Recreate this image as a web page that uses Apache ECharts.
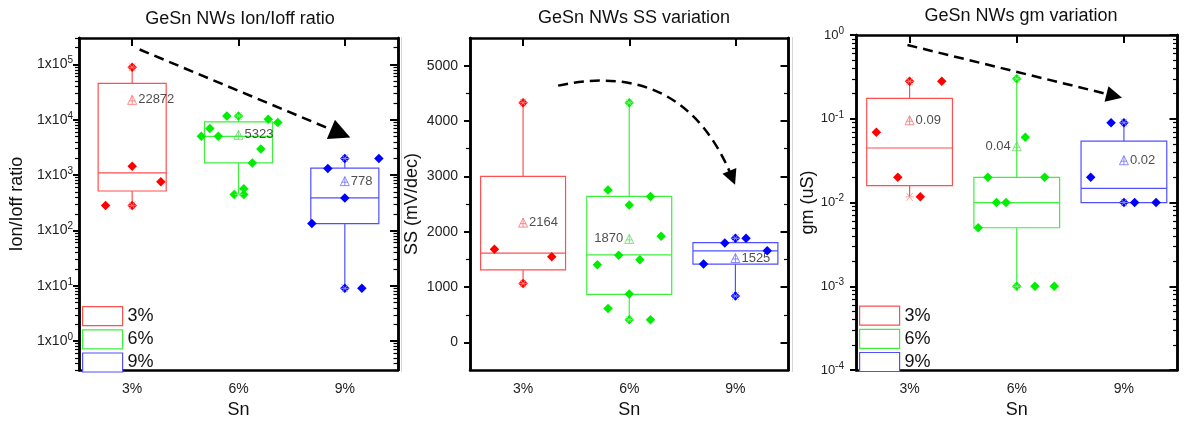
<!DOCTYPE html>
<html>
<head>
<meta charset="utf-8">
<title>GeSn NWs variation</title>
<script src="https://cdn.jsdelivr.net/npm/echarts@6/dist/echarts.min.js"></script>
<style>
html, body { margin: 0; padding: 0; background: #fff; }
#chart { width: 1184px; height: 424px; }
</style>
</head>
<body>
<div id="chart"></div>
<script>
var FONT = 'Liberation Sans, Arial, sans-serif';

// Sn content groups (x categories)
var snLevels = ['3%', '6%', '9%'];

// Ion/Ioff ratio: box [min, q1, median, q3, max], mean, points [x, value]
var ionBox = [
    [283, 516, 1100, 45600, 89000],
    [450, 1665, 5020, 9190, 11750],
    [9, 133, 387, 1337, 2000]
];
var ionMean = [22872, 5323, 778];
var ionMeanText = ['22872', '5323', '778'];
var ionPoints = [
    [[1.0, 89000], [1.0, 1450], [1.27, 755], [0.75, 283], [1.0, 283]],
    [[1.89, 11750], [2.0, 11750], [2.28, 10230], [2.37, 8920], [1.73, 6940], [1.65, 5020],
        [1.81, 5020], [2.21, 2950], [2.13, 1650], [2.05, 565], [1.96, 446], [2.05, 446]],
    [[2.69, 133], [2.84, 1320], [3.0, 2000], [3.32, 2000], [3.0, 387], [3.0, 9], [3.16, 9]]
];
var ionTrend = [[1.07, 186000], [2.96, 5660]];
var ionTickExp = [0, 1, 2, 3, 4, 5];

// SS (mV/dec)
var ssBox = [
    [1066, 1310, 1613, 3000, 4330],
    [411, 869, 1583, 2637, 4330],
    [839, 1415, 1654, 1802, 1881]
];
var ssMean = [2164, 1870, 1525];
var ssMeanText = ['2164', '1870', '1525'];
var ssPoints = [
    [[1.0, 4330], [0.73, 1684], [1.27, 1548], [1.0, 1066]],
    [[2.0, 4330], [1.80, 2756], [2.0, 2482], [2.20, 2637], [2.30, 1917], [1.90, 1577],
        [1.70, 1405], [2.10, 1494], [2.0, 875], [1.80, 613], [2.0, 411], [2.20, 411]],
    [[2.70, 1417], [2.90, 1798], [3.0, 1881], [3.10, 1881], [3.30, 1655], [3.0, 839]]
];
var ssTrend = [[1.33, 4640], [2.97, 2975]];
var ssTicks = [0, 1000, 2000, 3000, 4000, 5000];
var ssMinorTicks = [500, 1500, 2500, 3500, 4500];

// gm (uS)
var gmBox = [
    [0.0117, 0.0159, 0.0448, 0.175, 0.28],
    [0.001, 0.005, 0.01, 0.02, 0.30],
    [0.01, 0.01, 0.0148, 0.0542, 0.0897]
];
var gmMean = [0.096, 0.047, 0.032];
var gmMeanText = ['0.09', '0.04', '0.02'];
var gmPoints = [
    [[1.0, 0.28], [1.30, 0.28], [0.69, 0.069], [0.89, 0.020], [1.10, 0.0117]],
    [[2.0, 0.30], [2.08, 0.060], [1.73, 0.02], [2.26, 0.02], [1.81, 0.01], [1.90, 0.01],
        [1.64, 0.005], [2.0, 0.001], [2.17, 0.001], [2.35, 0.001]],
    [[2.88, 0.0897], [3.0, 0.0897], [2.69, 0.02], [3.0, 0.01], [3.10, 0.01], [3.30, 0.01]]
];
var gmTrend = [[0.98, 0.76], [2.91, 0.188]];
var gmTickExp = [-4, -3, -2, -1, 0];

var pointColor = ['#ff0000', '#00ee00', '#0000ff'];
var boxColor = ['#ff5050', '#3cf03c', '#5050ff'];
var meanColor = ['#ff7070', '#60e060', '#7070ff'];
var crossColor = ['#ff9090', '#90f090', '#a0a0ff'];

var MEAN_SYMBOL = 'path://M5,0L10,9L0,9Z M5,0L5,9 M1.5,5.5L8.5,5.5';
var CROSS_SYMBOL = 'path://M1,1L9,9M9,1L1,9M0,5L10,5';

function logMinor(fromExp, toExp) {
    var out = [];
    for (var e = fromExp; e <= toExp; e++) {
        for (var m = 2; m <= 9; m++) {
            out.push(m * Math.pow(10, e));
        }
    }
    return out;
}

var panels = [
    {
        title: 'GeSn NWs Ion/Ioff ratio', yName: 'Ion/Ioff ratio',
        box: ionBox, mean: ionMean, meanText: ionMeanText, points: ionPoints, trend: ionTrend,
        type: 'log', min: 0.3, max: 300000,
        ticks: ionTickExp.map(function (e) { return Math.pow(10, e); }), minor: logMinor(-1, 5),
        label: function (v) { return '1x10{s|' + Math.round(Math.log10(v)) + '}'; },
        sides: ['right', 'right', 'right'], legend: true,
        grid: { left: 79, top: 38, width: 319, height: 335 },
        titleAt: [240, 10], half: 0.32, nameGap: 53, labelMargin: 6, labelSize: 14,
        arrow: [13, 21], curve: 0
    },
    {
        title: 'GeSn NWs SS variation', yName: 'SS (mV/dec)',
        box: ssBox, mean: ssMean, meanText: ssMeanText, points: ssPoints, trend: ssTrend,
        type: 'value', min: -500, max: 5500,
        ticks: ssTicks, minor: ssMinorTicks,
        label: function (v) { return String(v); },
        sides: ['right', 'left', 'right'], legend: false,
        grid: { left: 470, top: 38, width: 318.5, height: 336 },
        titleAt: [634, 9], half: 0.4, nameGap: 49, labelMargin: 12, labelSize: 14,
        arrow: [10, 15], curve: 0.42
    },
    {
        title: 'GeSn NWs gm variation', yName: 'gm (uS)',
        box: gmBox, mean: gmMean, meanText: gmMeanText, points: gmPoints, trend: gmTrend,
        type: 'log', min: 0.0001, max: 1,
        ticks: gmTickExp.map(function (e) { return Math.pow(10, e); }), minor: logMinor(-4, -1),
        label: function (v) { return '10{s|' + Math.round(Math.log10(v)) + '}'; },
        sides: ['right', 'left', 'right'], legend: true,
        grid: { left: 856, top: 35, width: 321.5, height: 337.5 },
        titleAt: [1021, 7], half: 0.4, nameGap: 38, labelMargin: 12, labelSize: 13,
        arrow: [10, 16], curve: 0
    }
];

var axisLine = { show: true, onZero: false, lineStyle: { color: '#000', width: 2.5 } };

function boxRenderer(half, stroke) {
    return function (params, api) {
        var x = api.value(0);
        var lo = api.coord([x, api.value(1)]);
        var q1 = api.coord([x, api.value(2)]);
        var md = api.coord([x, api.value(3)]);
        var q3 = api.coord([x, api.value(4)]);
        var hi = api.coord([x, api.value(5)]);
        var l = api.coord([x - half, api.value(3)])[0];
        var r = api.coord([x + half, api.value(3)])[0];
        var st = { stroke: stroke, lineWidth: 1.2, fill: 'none' };
        return {
            type: 'group',
            children: [
                { type: 'line', shape: { x1: lo[0], y1: lo[1], x2: q1[0], y2: q1[1] }, style: st },
                { type: 'line', shape: { x1: q3[0], y1: q3[1], x2: hi[0], y2: hi[1] }, style: st },
                { type: 'rect', shape: { x: l, y: q3[1], width: r - l, height: q1[1] - q3[1] }, style: st },
                { type: 'line', shape: { x1: l, y1: md[1], x2: r, y2: md[1] }, style: st }
            ]
        };
    };
}

var xAxes = [];
var yAxes = [];
var series = [];
var titles = [];
var legends = [];

panels.forEach(function (p, i) {
    titles.push({
        text: p.title, left: p.titleAt[0], top: p.titleAt[1], textAlign: 'center', padding: 0,
        textStyle: { fontFamily: FONT, fontSize: 18, fontWeight: 'normal', color: '#111' }
    });

    xAxes.push({
        gridIndex: i, type: 'value', min: 0.5, max: 3.5, position: 'bottom',
        axisLine: axisLine, axisTick: { show: false }, splitLine: { show: false },
        axisLabel: {
            customValues: [1, 2, 3], margin: 12, fontFamily: FONT, fontSize: 14, color: '#222',
            formatter: function (v) { return snLevels[Math.round(v) - 1]; }
        },
        name: 'Sn', nameLocation: 'middle', nameGap: 27,
        nameTextStyle: { fontFamily: FONT, fontSize: 18, color: '#111' }
    });
    xAxes.push({
        gridIndex: i, type: 'value', min: 0.5, max: 3.5, position: 'top',
        axisLine: axisLine, splitLine: { show: false }, axisLabel: { show: false },
        axisTick: { show: true, inside: true, customValues: [1, 2, 3], length: 8, lineStyle: { color: '#000', width: 2 } }
    });

    var yBase = { gridIndex: i, type: p.type, min: p.min, max: p.max, splitLine: { show: false } };
    yAxes.push(Object.assign({}, yBase, {
        position: 'left', axisLine: axisLine,
        axisTick: { show: true, customValues: p.ticks, length: 6, lineStyle: { color: '#000', width: 2 } },
        axisLabel: {
            customValues: p.ticks, margin: p.labelMargin, formatter: p.label,
            fontFamily: FONT, fontSize: p.labelSize, color: '#222',
            rich: { s: { fontFamily: FONT, fontSize: 10, color: '#222', padding: [0, 0, 8, 0] } }
        },
        name: p.yName, nameLocation: 'middle', nameGap: p.nameGap,
        nameTextStyle: { fontFamily: FONT, fontSize: 18, color: '#111' }
    }));
    yAxes.push(Object.assign({}, yBase, {
        position: 'left', axisLine: axisLine, axisLabel: { show: false },
        axisTick: { show: true, customValues: p.minor, length: 4, lineStyle: { color: '#000', width: 1.2 } }
    }));
    yAxes.push(Object.assign({}, yBase, {
        position: 'right', axisLine: axisLine, axisLabel: { show: false },
        axisTick: { show: true, inside: true, customValues: p.ticks, length: 8, lineStyle: { color: '#000', width: 2 } }
    }));
    yAxes.push(Object.assign({}, yBase, {
        position: 'right', axisLine: axisLine, axisLabel: { show: false },
        axisTick: { show: true, inside: true, customValues: p.minor, length: 4.5, lineStyle: { color: '#000', width: 1.2 } }
    }));

    var xi = 2 * i;
    var yi = 4 * i;
    snLevels.forEach(function (name, g) {
        series.push({
            type: 'custom', name: name, xAxisIndex: xi, yAxisIndex: yi, z: 2, silent: true,
            renderItem: boxRenderer(p.half, boxColor[g]),
            encode: { x: 0, y: [1, 2, 3, 4, 5] },
            data: [[g + 1].concat(p.box[g])]
        });
        series.push({
            type: 'scatter', name: name, xAxisIndex: xi, yAxisIndex: yi, z: 3, silent: true,
            symbol: 'diamond', symbolSize: 9.5, itemStyle: { color: pointColor[g], opacity: 1 },
            data: p.points[g]
        });
        series.push({
            type: 'scatter', name: name, xAxisIndex: xi, yAxisIndex: yi, z: 4, silent: true,
            symbol: MEAN_SYMBOL, symbolSize: 9,
            itemStyle: { color: 'rgba(0,0,0,0)', borderColor: meanColor[g], borderWidth: 1 },
            label: {
                show: true, position: p.sides[g], distance: 1, formatter: p.meanText[g],
                fontFamily: FONT, fontSize: 13, color: '#222'
            },
            data: [[g + 1, p.mean[g]]]
        });
        series.push({
            type: 'scatter', name: name, xAxisIndex: xi, yAxisIndex: yi, z: 5, silent: true,
            symbol: CROSS_SYMBOL, symbolSize: 8,
            itemStyle: { color: 'rgba(0,0,0,0)', borderColor: crossColor[g], borderWidth: 1 },
            data: [[g + 1, p.box[g][0]], [g + 1, p.box[g][4]]]
        });
    });

    // dashed trend arrow
    series.push({
        type: 'lines', coordinateSystem: 'cartesian2d', xAxisIndex: xi, yAxisIndex: yi, z: 6,
        silent: true, symbol: ['none', 'triangle'], symbolSize: p.arrow,
        lineStyle: { color: '#000', width: 2.5, type: [10, 6], curveness: p.curve, opacity: 1 },
        data: [{ coords: p.trend }]
    });

    if (p.legend) {
        legends.push({
            orient: 'vertical', left: p.grid.left + 3, top: p.grid.top + p.grid.height - 67,
            padding: 0, itemWidth: 40, itemHeight: 19, itemGap: 3, selectedMode: false,
            textStyle: { fontFamily: FONT, fontSize: 18, color: '#111' },
            data: snLevels.map(function (name, g) {
                return { name: name, icon: 'rect', itemStyle: { color: '#fff', borderColor: boxColor[g], borderWidth: 1.2 } };
            })
        });
    }
});

var chart = echarts.init(document.getElementById('chart'), null, { renderer: 'canvas' });
chart.setOption({
    animation: false,
    backgroundColor: '#fff',
    title: titles,
    legend: legends,
    grid: panels.map(function (p) { return p.grid; }),
    xAxis: xAxes,
    yAxis: yAxes,
    series: series,
    graphic: [
        { type: 'line', shape: { x1: 401.5, y1: 37, x2: 401.5, y2: 372 }, style: { stroke: '#d6d6d6', lineWidth: 1 }, silent: true },
        { type: 'line', shape: { x1: 792.5, y1: 37, x2: 792.5, y2: 372 }, style: { stroke: '#d6d6d6', lineWidth: 1 }, silent: true }
    ]
});
</script>
</body>
</html>
